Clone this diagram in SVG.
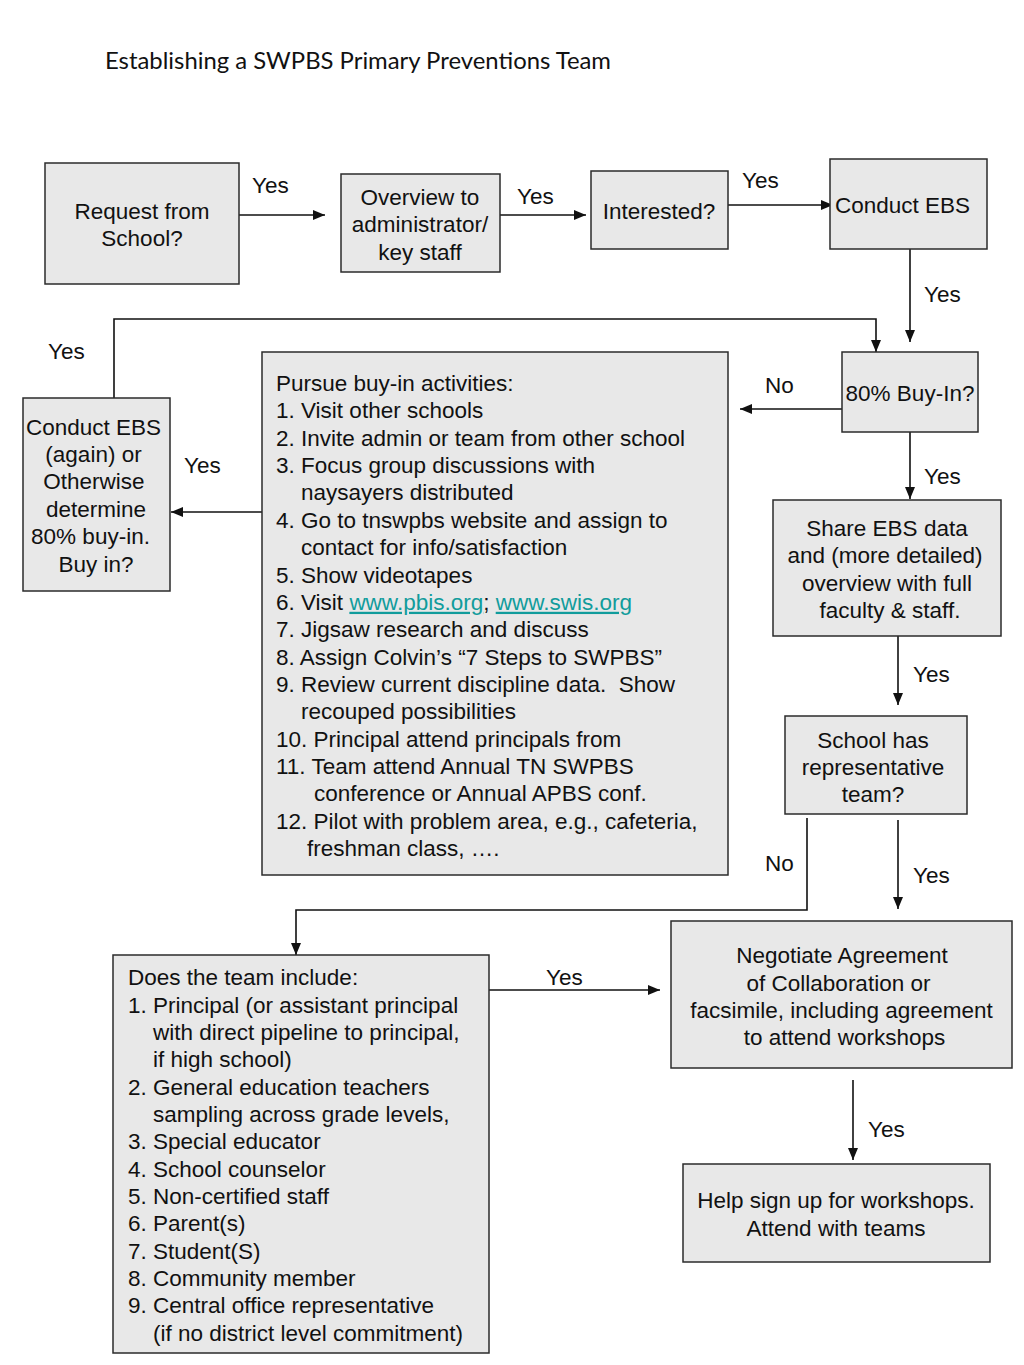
<svg xmlns="http://www.w3.org/2000/svg" width="1024" height="1365" viewBox="0 0 1024 1365">
<style>
.bg{fill:#ffffff}
.box{fill:#e8e8e8;stroke:#2b2b2b;stroke-width:1.5}
.t{font-family:"Liberation Sans",Arial,sans-serif;font-size:22.5px;fill:#111}
.c{text-anchor:middle}
.lnk{fill:#119c9c;text-decoration:underline}
.title{font-family:Lato,"Open Sans",sans-serif;font-size:24px;fill:#111}
.conn{fill:none;stroke:#111;stroke-width:1.6}
</style>
<defs>
<marker id="ah" viewBox="0 0 12 10" refX="12" refY="5" markerWidth="12" markerHeight="10" markerUnits="userSpaceOnUse" orient="auto">
<path d="M0,0 L12,5 L0,10 Z" fill="#111"/>
</marker>
</defs>
<rect class="bg" x="0" y="0" width="1024" height="1365"/>
<text class="title" x="105" y="69" textLength="506" lengthAdjust="spacingAndGlyphs">Establishing a SWPBS Primary Preventions Team</text>

<g id="connectors">
<line class="conn" x1="239" y1="215" x2="325" y2="215" marker-end="url(#ah)"/>
<line class="conn" x1="500" y1="215" x2="586" y2="215" marker-end="url(#ah)"/>
<line class="conn" x1="728" y1="205" x2="833" y2="205" marker-end="url(#ah)"/>
<line class="conn" x1="910" y1="249" x2="910" y2="342" marker-end="url(#ah)"/>
<polyline class="conn" points="114,398 114,319 876,319 876,352" marker-end="url(#ah)"/>
<line class="conn" x1="842" y1="409" x2="740" y2="409" marker-end="url(#ah)"/>
<line class="conn" x1="262" y1="512" x2="171" y2="512" marker-end="url(#ah)"/>
<line class="conn" x1="910" y1="432" x2="910" y2="499" marker-end="url(#ah)"/>
<line class="conn" x1="898" y1="636" x2="898" y2="705" marker-end="url(#ah)"/>
<line class="conn" x1="898" y1="820" x2="898" y2="909" marker-end="url(#ah)"/>
<polyline class="conn" points="807,818 807,910 296,910 296,955" marker-end="url(#ah)"/>
<line class="conn" x1="489" y1="990" x2="660" y2="990" marker-end="url(#ah)"/>
<line class="conn" x1="853" y1="1080" x2="853" y2="1160" marker-end="url(#ah)"/>
<text class="t" x="252" y="193">Yes</text>
<text class="t" x="517" y="204">Yes</text>
<text class="t" x="742" y="188">Yes</text>
<text class="t" x="924" y="302">Yes</text>
<text class="t" x="48" y="359">Yes</text>
<text class="t" x="765" y="393">No</text>
<text class="t" x="184" y="473">Yes</text>
<text class="t" x="924" y="484">Yes</text>
<text class="t" x="913" y="682">Yes</text>
<text class="t" x="765" y="871">No</text>
<text class="t" x="913" y="883">Yes</text>
<text class="t" x="546" y="985">Yes</text>
<text class="t" x="868" y="1137">Yes</text>
</g>

<g id="request">
<rect class="box" x="45" y="163" width="194" height="121"/>
<text class="t c" x="142" y="219">Request from</text>
<text class="t c" x="142" y="246">School?</text>
</g>

<g id="overview">
<rect class="box" x="341" y="174" width="159" height="98"/>
<text class="t c" x="420" y="205">Overview to</text>
<text class="t c" x="420" y="232">administrator/</text>
<text class="t c" x="420" y="260">key staff</text>
</g>

<g id="interested">
<rect class="box" x="591" y="171" width="137" height="78"/>
<text class="t c" x="659" y="219">Interested?</text>
</g>

<g id="conduct-ebs">
<rect class="box" x="830" y="159" width="157" height="90"/>
<text class="t" x="835" y="213">Conduct EBS</text>
</g>

<g id="buy-in">
<rect class="box" x="842" y="352" width="136" height="80"/>
<text class="t c" x="910" y="401">80% Buy-In?</text>
</g>

<g id="pursue">
<rect class="box" x="262" y="352" width="466" height="523"/>
<text class="t" x="276" y="391">Pursue buy-in activities:</text>
<text class="t" x="276" y="418.4">1. Visit other schools</text>
<text class="t" x="276" y="445.7">2. Invite admin or team from other school</text>
<text class="t" x="276" y="473.1">3. Focus group discussions with</text>
<text class="t" x="301" y="500.4">naysayers distributed</text>
<text class="t" x="276" y="527.8">4. Go to tnswpbs website and assign to</text>
<text class="t" x="301" y="555.1">contact for info/satisfaction</text>
<text class="t" x="276" y="582.5">5. Show videotapes</text>
<text class="t" x="276" y="609.8">6. Visit <tspan class="lnk">www.pbis.org</tspan>; <tspan class="lnk">www.swis.org</tspan></text>
<text class="t" x="276" y="637.2">7. Jigsaw research and discuss</text>
<text class="t" x="276" y="664.5">8. Assign Colvin’s “7 Steps to SWPBS”</text>
<text class="t" x="276" y="691.9">9. Review current discipline data.&#160; Show</text>
<text class="t" x="301" y="719.2">recouped possibilities</text>
<text class="t" x="276" y="746.6">10. Principal attend principals from</text>
<text class="t" x="276" y="773.9">11. Team attend Annual TN SWPBS</text>
<text class="t" x="314" y="801.3">conference or Annual APBS conf.</text>
<text class="t" x="276" y="828.6">12. Pilot with problem area, e.g., cafeteria,</text>
<text class="t" x="307" y="856">freshman class, ….</text>
</g>

<g id="conduct-again">
<rect class="box" x="23" y="398" width="147" height="193"/>
<text class="t c" x="93.5" y="435">Conduct EBS</text>
<text class="t c" x="93.5" y="462">(again) or</text>
<text class="t c" x="94" y="489">Otherwise</text>
<text class="t c" x="96" y="517">determine</text>
<text class="t c" x="90.5" y="544">80% buy-in.</text>
<text class="t c" x="96" y="572">Buy in?</text>
</g>

<g id="share">
<rect class="box" x="773" y="500" width="228" height="136"/>
<text class="t c" x="887" y="536">Share EBS data</text>
<text class="t c" x="885" y="563">and (more detailed)</text>
<text class="t c" x="887" y="591">overview with full</text>
<text class="t c" x="890" y="618">faculty &amp; staff.</text>
</g>

<g id="school-has">
<rect class="box" x="785" y="716" width="182" height="98"/>
<text class="t c" x="873" y="748">School has</text>
<text class="t c" x="873" y="775">representative</text>
<text class="t c" x="873" y="802">team?</text>
</g>

<g id="negotiate">
<rect class="box" x="671" y="921" width="341" height="147"/>
<text class="t c" x="842" y="963">Negotiate Agreement</text>
<text class="t c" x="838.5" y="991">of Collaboration or</text>
<text class="t c" x="841.5" y="1018">facsimile, including agreement</text>
<text class="t c" x="844.5" y="1045">to attend workshops</text>
</g>

<g id="help">
<rect class="box" x="683" y="1164" width="307" height="98"/>
<text class="t c" x="836" y="1208">Help sign up for workshops.</text>
<text class="t c" x="836" y="1236">Attend with teams</text>
</g>

<g id="team-include">
<rect class="box" x="113" y="955" width="376" height="398"/>
<text class="t" x="128" y="985">Does the team include:</text>
<text class="t" x="128" y="1013">1. Principal (or assistant principal</text>
<text class="t" x="153" y="1040">with direct pipeline to principal,</text>
<text class="t" x="153" y="1067">if high school)</text>
<text class="t" x="128" y="1095">2. General education teachers</text>
<text class="t" x="153" y="1122">sampling across grade levels,</text>
<text class="t" x="128" y="1149">3. Special educator</text>
<text class="t" x="128" y="1177">4. School counselor</text>
<text class="t" x="128" y="1204">5. Non-certified staff</text>
<text class="t" x="128" y="1231">6. Parent(s)</text>
<text class="t" x="128" y="1259">7. Student(S)</text>
<text class="t" x="128" y="1286">8. Community member</text>
<text class="t" x="128" y="1313">9. Central office representative</text>
<text class="t" x="153" y="1341">(if no district level commitment)</text>
</g>
</svg>
